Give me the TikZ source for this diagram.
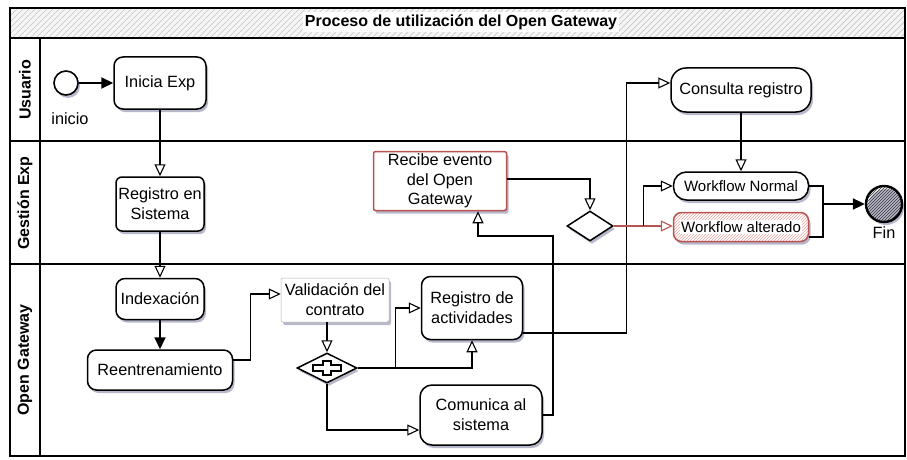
\documentclass[tikz,border=0pt]{standalone}
\usepackage{fontspec}
\setmainfont{Liberation Sans}
\usetikzlibrary{arrows.meta,shapes.geometric,patterns,shadows,calc}
\definecolor{redline}{HTML}{B85450}
\definecolor{redhatch}{HTML}{E8A6A3}
\begin{document}
\begin{tikzpicture}[x=1pt,y=-1pt,
  font=\fontsize{16.3}{20}\selectfont,
  shad/.style={drop shadow={opacity=0.28,shadow xshift=2pt,shadow yshift=-3pt,fill=blue!30!black}},
  task/.style={draw=black,line width=1.5pt,rounded corners=9pt,fill=white,align=center,inner sep=1pt,shad},
  oarr/.style={-{Triangle[open,length=12pt,width=11pt,line width=1.1pt]},line width=1.2pt},
  farr/.style={-{Triangle[length=12pt,width=11pt]},line width=2pt},
  lane/.style={line width=1.6pt},
  lanelabel/.style={rotate=90,font=\bfseries\fontsize{16}{20}\selectfont},
]
\useasboundingbox (0,0) rectangle (907,460);
% title bar
\fill[gray!8] (10,8) rectangle (905,38);
\begin{scope}
\clip (10,8) rectangle (905,38);
\foreach \hx in {-30,-24,...,905} {\draw[gray!45,line width=0.7pt] (\hx,38) -- (\hx+30,8);}
\end{scope}
\node[fill=white,inner sep=2pt,font=\bfseries\fontsize{16}{20}\selectfont] (title) at (461,22) {Proceso de utilización del Open Gateway};
% pool and lanes
\draw[lane] (10,8) rectangle (905,456);
\draw[lane] (10,38) -- (905,38);
\draw[lane] (10,141) -- (905,141);
\draw[lane] (10,264) -- (905,264);
\draw[lane] (40,38) -- (40,456);
\node[lanelabel] (lu) at (25,90) {Usuario};
\node[lanelabel] (lg) at (25,203) {Gestión Exp};
\node[lanelabel] (lo) at (25,360) {Open Gateway};

% nodes
\node[circle,draw,line width=1.6pt,minimum size=24pt,inner sep=0pt,fill=white,shad] (ini) at (66,83) {};
\node (inil) at (70,119) {inicio};
\node[task,minimum width=92pt,minimum height=52pt] (ie) at (160,83) {Inicia Exp};
\node[task,rounded corners=6pt,minimum width=88pt,minimum height=54pt] (rs) at (160,204) {Registro en\\Sistema};
\node[task,minimum width=88pt,minimum height=41pt] (idx) at (160,299) {Indexación};
\node[task,minimum width=145pt,minimum height=40pt] (ree) at (160,370) {Reentrenamiento};
\node[task,rounded corners=2pt,line width=0.5pt,draw=gray!60,minimum width=108pt,minimum height=44pt] (val) at (335,300) {Validación del\\contrato};
\node[diamond,draw,line width=1.5pt,fill=white,minimum width=60pt,minimum height=30pt,inner sep=0pt,shad] (gw) at (327,368) {};
\begin{scope}[shift={(gw.center)}]
\draw[line width=1.3pt,fill=white] (-14,-3) -- (-4,-3) -- (-4,-7) -- (4,-7) -- (4,-3) -- (14,-3) -- (14,3) -- (4,3) -- (4,7) -- (-4,7) -- (-4,3) -- (-14,3) -- cycle;
\end{scope}
\node[task,minimum width=101pt,minimum height=63pt] (ra) at (472,308) {Registro de\\actividades};
\node[task,rounded corners=12pt,minimum width=122pt,minimum height=60pt] (cs) at (481,415) {Comunica al\\sistema};
\node[task,rounded corners=2pt,draw=redline,minimum width=133pt,minimum height=59pt,font=\fontsize{16.3}{19.5}\selectfont] (rev) at (440,181) {Recibe evento\\del Open\\Gateway};
\node[diamond,draw,line width=1.5pt,fill=white,minimum width=46pt,minimum height=30pt,inner sep=0pt,shad] (xd) at (590,226) {};
\node[task,rounded corners=15pt,minimum width=140pt,minimum height=44pt] (cr) at (741,90) {Consulta registro};
\node[task,rounded corners=13pt,minimum width=135pt,minimum height=28pt,font=\fontsize{15}{18}\selectfont] (wn) at (741,186) {Workflow Normal};
\node[task,rounded corners=8pt,draw=redline,preaction={fill=white},pattern=north east lines,pattern color=redhatch,minimum width=135pt,minimum height=29pt,font=\fontsize{15}{18}\selectfont] (wa) at (741,227) {\setlength\fboxsep{1pt}\colorbox{white}{Workflow alterado}};
\node[circle,draw,line width=2.4pt,minimum size=36pt,inner sep=0pt,preaction={fill=white},pattern=north east lines,pattern color=black!80,shad] (fin) at (884,204) {};
\node (finl) at (884,233) {Fin};

% junction coordinates
\coordinate (k2) at (553,236);
\coordinate (j) at (823,204);

% connectors
\draw[farr] (ini) -- (ie);
\draw[oarr] (ie) -- (rs);
\draw[oarr] (rs) -- (idx);
\draw[farr] (idx) -- (ree);
\draw[oarr] ([yshift=10pt]ree.east) -- ++(17,0) |- ([yshift=6pt]val.west);
\draw[oarr] (val.south -| gw.north) -- (gw.north);
\draw[oarr] (gw.east) -- ++(38,0) |- (ra.west);
\draw[oarr] (gw.east) -| (ra.south);
\draw[oarr] (gw.south) |- ([yshift=-15pt]cs.west);
\draw[oarr] ([yshift=-25pt]ra.east) -| ([xshift=-44pt,yshift=7pt]cr.west) -- ([yshift=7pt]cr.west);
\draw[oarr] (cs.east) -| (k2) -| ([xshift=38pt]rev.south);
\draw[oarr] ([yshift=2pt]rev.east) -| (xd.north);
\draw[oarr,draw=redline] (xd.east) -- (xd.east -| wa.west);
\draw[oarr] ([xshift=30pt]xd.east) |- (wn.west);
\draw[oarr] (cr) -- (wn);
\draw[line width=1.4pt] (wn.east) -| (j);
\draw[line width=1.4pt] ([yshift=-10pt]wa.east) -| (j);
\draw[farr] (j) -- (fin);
\end{tikzpicture}
\end{document}
